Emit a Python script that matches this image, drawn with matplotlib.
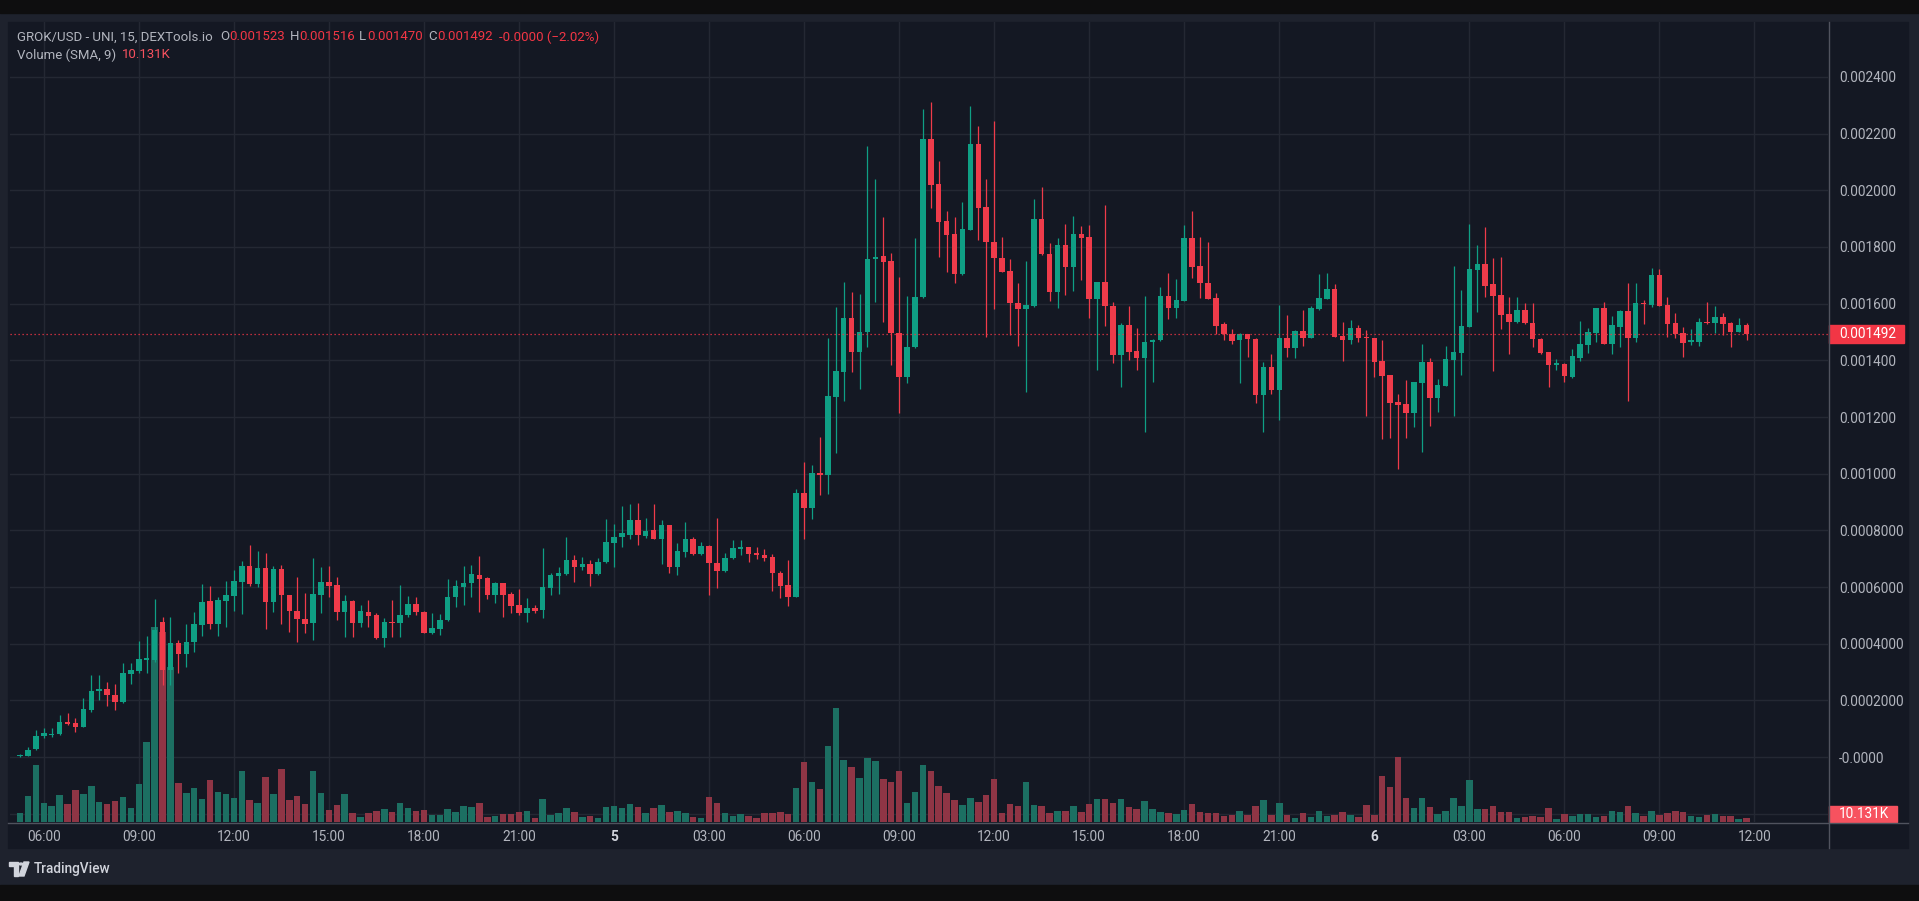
import numpy as np
import matplotlib
matplotlib.use("Agg")
import matplotlib.pyplot as plt
from matplotlib.patches import Rectangle, Polygon, Circle
from matplotlib.transforms import blended_transform_factory

plt.rcParams['font.family'] = ['Roboto', 'DejaVu Sans']

# GROK/USD 15m candles, prices in micro-USD (1e-6)
open_u = [
    2, 5, 27, 74, 77, 81, 122, 119, 107, 166,
    234, 239, 219, 195, 293, 305, 344, 342, 478, 307,
    403, 364, 405, 466, 552, 470, 552, 568, 619, 674,
    611, 666, 548, 662, 572, 516, 486, 472, 572, 619,
    607, 513, 552, 473, 513, 501, 419, 478, 472, 501,
    540, 513, 439, 452, 484, 564, 601, 613, 642, 631,
    572, 615, 575, 537, 507, 525, 518, 598, 639, 646,
    695, 669, 681, 646, 687, 757, 775, 784, 836, 780,
    801, 770, 819, 672, 724, 771, 717, 745, 686, 657,
    701, 735, 740, 720, 712, 706, 650, 607, 565, 933,
    878, 1001, 996, 1272, 1360, 1551, 1431, 1499, 1757, 1769,
    1751, 1495, 1340, 1446, 1623, 2182, 2021, 1891, 1845, 1705,
    1860, 2164, 1940, 1819, 1760, 1716, 1601, 1581, 1592, 1899,
    1775, 1640, 1807, 1731, 1846, 1835, 1617, 1676, 1593, 1419,
    1525, 1434, 1407, 1464, 1470, 1628, 1586, 1611, 1831, 1733,
    1674, 1619, 1527, 1493, 1470, 1492, 1476, 1278, 1378, 1296,
    1478, 1445, 1504, 1480, 1581, 1618, 1651, 1487, 1472, 1513,
    1484, 1478, 1399, 1348, 1252, 1245, 1215, 1321, 1393, 1266,
    1310, 1401, 1425, 1519, 1719, 1740, 1669, 1631, 1563, 1534,
    1578, 1533, 1476, 1429, 1384, 1387, 1342, 1407, 1454, 1498,
    1584, 1458, 1519, 1574, 1480, 1604, 1596, 1701, 1596, 1531,
    1498, 1463, 1466, 1537, 1531, 1552, 1531, 1501, 1523,
]
high_u = [
    9, 36, 95, 101, 101, 150, 154, 136, 207, 289,
    289, 266, 258, 333, 333, 411, 427, 558, 495, 493,
    413, 470, 513, 611, 604, 565, 622, 660, 693, 748,
    728, 721, 674, 678, 572, 636, 580, 704, 669, 674,
    636, 572, 554, 537, 554, 509, 490, 554, 607, 568,
    565, 516, 509, 506, 628, 625, 674, 678, 710, 636,
    619, 615, 583, 592, 560, 537, 736, 650, 671, 776,
    713, 705, 695, 701, 839, 822, 886, 893, 897, 842,
    893, 836, 819, 754, 830, 777, 760, 748, 842, 721,
    766, 766, 740, 740, 733, 717, 657, 695, 945, 1042,
    1031, 1131, 1478, 1587, 1676, 1640, 1634, 2158, 2039, 1907,
    1778, 1693, 1627, 1833, 2287, 2313, 2104, 1928, 1907, 1958,
    2296, 2227, 2039, 2243, 1837, 1757, 1672, 1751, 1970, 2013,
    1813, 1833, 1881, 1910, 1874, 1878, 1676, 1949, 1607, 1531,
    1592, 1513, 1627, 1474, 1660, 1707, 1686, 1878, 1928, 1835,
    1819, 1639, 1537, 1510, 1498, 1494, 1478, 1395, 1423, 1596,
    1560, 1506, 1578, 1590, 1705, 1707, 1669, 1534, 1543, 1525,
    1507, 1478, 1472, 1348, 1281, 1331, 1324, 1458, 1407, 1334,
    1451, 1733, 1649, 1881, 1807, 1872, 1760, 1764, 1625, 1625,
    1601, 1601, 1478, 1431, 1404, 1389, 1439, 1539, 1513, 1586,
    1607, 1557, 1576, 1674, 1672, 1613, 1725, 1723, 1625, 1566,
    1519, 1511, 1551, 1607, 1592, 1566, 1537, 1548, 1530,
]
low_u = [
    0, 3, 25, 66, 70, 77, 113, 87, 105, 158,
    201, 181, 166, 192, 258, 298, 298, 336, 254, 254,
    298, 317, 369, 428, 452, 428, 460, 516, 505, 605,
    599, 452, 511, 470, 442, 407, 436, 413, 508, 565,
    484, 423, 425, 460, 460, 415, 389, 425, 425, 493,
    501, 436, 434, 431, 481, 530, 537, 565, 513, 556,
    542, 493, 507, 501, 478, 509, 490, 572, 575, 642,
    619, 660, 604, 642, 684, 669, 742, 768, 748, 772,
    768, 681, 648, 642, 707, 713, 713, 572, 595, 654,
    698, 713, 689, 698, 693, 587, 560, 533, 564, 768,
    839, 925, 930, 1072, 1258, 1360, 1298, 1448, 1605, 1534,
    1384, 1215, 1319, 1444, 1621, 1937, 1766, 1710, 1672, 1701,
    1860, 1825, 1482, 1580, 1710, 1490, 1451, 1289, 1589, 1773,
    1611, 1586, 1631, 1643, 1684, 1551, 1366, 1521, 1390, 1307,
    1401, 1366, 1148, 1325, 1468, 1545, 1549, 1610, 1692, 1619,
    1616, 1493, 1470, 1458, 1321, 1411, 1249, 1148, 1281, 1190,
    1413, 1407, 1451, 1478, 1579, 1616, 1484, 1398, 1458, 1466,
    1204, 1342, 1121, 1125, 1015, 1125, 1166, 1078, 1168, 1219,
    1308, 1204, 1348, 1517, 1572, 1623, 1364, 1510, 1423, 1532,
    1529, 1446, 1423, 1305, 1366, 1325, 1337, 1399, 1427, 1466,
    1456, 1423, 1448, 1257, 1466, 1528, 1587, 1591, 1482, 1478,
    1411, 1454, 1452, 1529, 1498, 1490, 1448, 1499, 1470,
]
close_u = [
    7, 26, 75, 83, 80, 122, 116, 105, 168, 234,
    239, 219, 195, 296, 307, 346, 347, 450, 307, 401,
    364, 407, 470, 548, 470, 554, 572, 622, 674, 611,
    666, 548, 662, 572, 516, 486, 470, 575, 619, 604,
    513, 552, 473, 515, 499, 419, 478, 473, 501, 540,
    513, 439, 454, 484, 564, 604, 613, 645, 627, 572,
    615, 572, 533, 507, 525, 516, 601, 642, 650, 695,
    669, 681, 646, 689, 760, 777, 789, 836, 784, 799,
    770, 819, 672, 728, 771, 717, 745, 686, 657, 701,
    736, 740, 717, 714, 704, 648, 604, 565, 933, 878,
    1001, 995, 1274, 1363, 1551, 1431, 1501, 1757, 1766, 1748,
    1495, 1340, 1448, 1625, 2182, 2019, 1889, 1843, 1705, 1864,
    2164, 1937, 1817, 1760, 1711, 1601, 1581, 1596, 1899, 1774,
    1640, 1807, 1731, 1846, 1831, 1617, 1676, 1590, 1419, 1525,
    1431, 1407, 1464, 1472, 1628, 1586, 1613, 1831, 1731, 1672,
    1617, 1522, 1492, 1468, 1493, 1474, 1278, 1378, 1296, 1478,
    1445, 1504, 1480, 1586, 1619, 1651, 1484, 1472, 1513, 1480,
    1478, 1395, 1346, 1249, 1243, 1215, 1322, 1393, 1266, 1313,
    1404, 1429, 1521, 1723, 1740, 1664, 1628, 1560, 1534, 1578,
    1531, 1475, 1425, 1384, 1390, 1346, 1416, 1458, 1501, 1584,
    1458, 1525, 1574, 1480, 1604, 1599, 1701, 1593, 1528, 1493,
    1460, 1470, 1537, 1531, 1552, 1528, 1501, 1525, 1492,
]
# volume in thousands
volume_k = [
    15, 43, 94, 31, 26, 45, 30, 53, 46, 59,
    33, 30, 35, 41, 23, 63, 132, 322, 314, 256,
    64, 48, 56, 38, 69, 50, 46, 40, 84, 36,
    31, 74, 46, 87, 36, 43, 30, 84, 48, 20,
    28, 46, 15, 8, 15, 18, 21, 17, 31, 23,
    18, 20, 12, 12, 21, 17, 26, 25, 31, 8,
    10, 13, 13, 17, 18, 7, 38, 12, 15, 23,
    17, 8, 10, 7, 25, 26, 23, 30, 25, 15,
    23, 28, 17, 18, 15, 8, 7, 41, 31, 15,
    10, 13, 10, 7, 15, 15, 17, 13, 56, 99,
    66, 54, 125, 188, 102, 91, 73, 106, 101, 71,
    66, 84, 31, 50, 94, 84, 59, 48, 36, 28,
    40, 33, 45, 71, 15, 30, 26, 66, 28, 26,
    15, 18, 18, 26, 17, 30, 38, 38, 31, 38,
    25, 21, 35, 21, 17, 15, 13, 20, 30, 17,
    15, 15, 10, 12, 18, 12, 26, 36, 12, 31,
    12, 7, 15, 8, 18, 10, 12, 17, 12, 8,
    28, 12, 76, 58, 107, 40, 23, 40, 25, 13,
    18, 40, 26, 69, 21, 21, 26, 17, 17, 7,
    8, 10, 8, 23, 5, 13, 10, 13, 13, 8,
    10, 18, 17, 26, 15, 10, 18, 12, 15, 18,
    17, 10, 8, 12, 13, 10, 10, 5, 7,
]

# time axis: candle index of each label (first candle is 05:15)
time_tick_idx = [3, 15, 27, 39, 51, 63, 75, 87, 99, 111, 123, 135, 147, 159, 171, 183, 195, 207, 219]
time_tick_labels = ['06:00', '09:00', '12:00', '15:00', '18:00', '21:00', '5', '03:00', '06:00',
                    '09:00', '12:00', '15:00', '18:00', '21:00', '6', '03:00', '06:00', '09:00', '12:00']
price_ticks = [-0.0002, 0.0, 0.0002, 0.0004, 0.0006, 0.0008, 0.0010, 0.0012,
               0.0014, 0.0016, 0.0018, 0.0020, 0.0022, 0.0024]
price_tick_labels = ['', '-0.0000', '0.0002000', '0.0004000', '0.0006000', '0.0008000', '0.001000',
                     '0.001200', '0.001400', '0.001600', '0.001800', '0.002000', '0.002200', '0.002400']

o = np.array(open_u) / 1e6
h = np.array(high_u) / 1e6
l = np.array(low_u) / 1e6
c = np.array(close_u) / 1e6
v = np.array(volume_k, dtype=float)
x = np.arange(len(o))

GREEN = '#0f9f84'
RED = '#ef3b4a'
VOL_GREEN = '#1c6f62'
VOL_RED = '#8f3545'
BG = '#141823'
FRAME = '#1e222d'
TXT = '#b2b5be'

W, H = 1919, 901


def fx(px):
    return px / W


def fy(py):
    return 1 - py / H


fig = plt.figure(figsize=(W / 100, H / 100), dpi=100, facecolor=FRAME)

# frame, black bands, pane background (behind the axes)
fig.patches.append(Rectangle((0, fy(13)), 1, 13 / H, transform=fig.transFigure, color='#0e0e0f', zorder=-5))
fig.patches.append(Rectangle((0, 0), 1, 16 / H, transform=fig.transFigure, color='#0e0e0f', zorder=-5))
fig.patches.append(Rectangle((fx(8), fy(848)), 1900 / W, 826 / H, transform=fig.transFigure,
                             color=BG, zorder=-5))

# volume axes (behind) and price axes (front)
rect = [fx(10), fy(822), (1828 - 10) / W, (822 - 22) / H]
axv = fig.add_axes(rect)
ax = fig.add_axes(rect, sharex=axv)
axv.set_facecolor(BG)
ax.patch.set_visible(False)

px_per_candle = 7.92
ax.set_xlim((10 - 20) / px_per_candle, (1828 - 20) / px_per_candle)
ppp = 0.0002 / 56.67  # price per pixel
ax.set_ylim(-(822 - 757) * ppp, 0.0024 + (77 - 22) * ppp)
vol_per_px = 1.65
axv.set_ylim(0, 800 * vol_per_px)

up = c >= o

# grid (on the back axes so the volume bars sit over it)
gtrans = blended_transform_factory(axv.transAxes, ax.transData)
for t in price_ticks:
    axv.plot([0, 1], [t, t], transform=gtrans, color='#242833', lw=1, zorder=0)
for t in time_tick_idx:
    axv.axvline(t, color='#242833', lw=1, zorder=0)

# volume
axv.bar(x[up], v[up], width=0.82, color=VOL_GREEN, linewidth=0, zorder=1)
axv.bar(x[~up], v[~up], width=0.82, color=VOL_RED, linewidth=0, zorder=1)
axv.set_yticks([])
for s in axv.spines.values():
    s.set_visible(False)
axv.tick_params(axis='x', length=0, labelbottom=False)

# candles
min_body = 1.3 * ppp
body_bot = np.minimum(o, c)
body_h = np.maximum(np.abs(c - o), min_body)
ax.vlines(x[up], l[up], h[up], color=GREEN, lw=0.9, zorder=2)
ax.vlines(x[~up], l[~up], h[~up], color=RED, lw=0.9, zorder=2)
ax.bar(x[up], body_h[up], bottom=body_bot[up], width=0.7, color=GREEN, linewidth=0, zorder=3)
ax.bar(x[~up], body_h[~up], bottom=body_bot[~up], width=0.7, color=RED, linewidth=0, zorder=3)

# last price dotted line
last = c[-1]
ax.axhline(last, color='#f23645', lw=0.9, ls=(0, (1, 2.2)), zorder=4)

# axes ticks
ax.yaxis.tick_right()
ax.set_yticks(price_ticks)
ax.set_yticklabels(price_tick_labels)
ax.tick_params(axis='y', length=0, pad=8, labelsize=9.8, labelcolor=TXT)
ax.set_xticks(time_tick_idx)
ax.set_xticklabels(time_tick_labels)
ax.tick_params(axis='x', length=0, pad=6, labelsize=9.8, labelcolor=TXT)
for lab in ax.get_xticklabels():
    if lab.get_text() in ('5', '6'):
        lab.set_fontweight('bold')
        lab.set_color('#d1d4dc')
for s in ax.spines.values():
    s.set_visible(False)

# separator lines of the price scale and time scale
fig.lines.append(plt.Line2D([fx(1828.5), fx(1828.5)], [fy(848), fy(22)], transform=fig.transFigure,
                            color='#50535e', lw=1))
fig.lines.append(plt.Line2D([fx(8), fx(1908)], [fy(822.5), fy(822.5)], transform=fig.transFigure,
                            color='#50535e', lw=1))

# price label on the scale
trans = blended_transform_factory(ax.transAxes, ax.transData)
ax_w_px = 1818
ax.add_patch(Rectangle((1.0003, last - 9 * ppp), 75 / ax_w_px, 18 * ppp, transform=trans,
                       color='#f23645', clip_on=False, zorder=6))
ax.text(1 + 11 / ax_w_px, last, '0.001492', transform=trans, color='white', fontsize=9.8,
        va='center', ha='left', clip_on=False, zorder=7)

# volume SMA label
sma = v[-9:].mean()
lab_center = max(sma, 8.5 * vol_per_px)
transv = blended_transform_factory(axv.transAxes, axv.transData)
ax.add_patch(Rectangle((1.0003, lab_center - 8 * vol_per_px), 68 / ax_w_px, 16 * vol_per_px,
                       transform=transv, color='#f7525f', clip_on=False, zorder=6))
ax.text(1 + 11 / ax_w_px, lab_center, '10.131K', transform=transv, color='white', fontsize=9.8,
        va='center', ha='left', clip_on=False, zorder=7)

# legend header
hdr_y = fy(37)
VAL = '#f23645'
fig.text(fx(17), hdr_y, 'GROK/USD - UNI, 15, DEXTools.io', color=TXT, fontsize=9.5, va='center')
for letter, lx, val, vx in [('O', 220, '0.001523', 229), ('H', 290, '0.001516', 299),
                            ('L', 359, '0.001470', 367), ('C', 428, '0.001492', 437)]:
    fig.text(fx(lx), hdr_y, letter, color=TXT, fontsize=9.5, va='center')
    fig.text(fx(vx), hdr_y, val, color=VAL, fontsize=9.5, va='center')
fig.text(fx(499), hdr_y, '-0.0000 (\u22122.02%)', color=VAL, fontsize=9.5, va='center')
fig.text(fx(17), fy(55), 'Volume (SMA, 9)', color=TXT, fontsize=9.5, va='center')
fig.text(fx(122), fy(55), '10.131K', color='#f7525f', fontsize=9.5, va='center')

# TradingView logo and name
LOGO = '#d1d4dc'
fig.patches.append(Polygon([(fx(9), fy(862)), (fx(18), fy(862)), (fx(18), fy(876)), (fx(14), fy(876)),
                            (fx(14), fy(866)), (fx(9), fy(866))], closed=True, transform=fig.transFigure,
                           color=LOGO))
fig.patches.append(Circle((fx(21), fy(864)), 2 / W, transform=fig.transFigure, color=LOGO))
fig.patches.append(Polygon([(fx(24), fy(862)), (fx(29), fy(862)), (fx(24), fy(876)), (fx(19), fy(876))],
                           closed=True, transform=fig.transFigure, color=LOGO))
fig.text(fx(34), fy(869), 'TradingView', color=LOGO, fontsize=9.8, va='center', fontweight='medium')

fig.savefig('out.png', dpi=100, facecolor=FRAME)
